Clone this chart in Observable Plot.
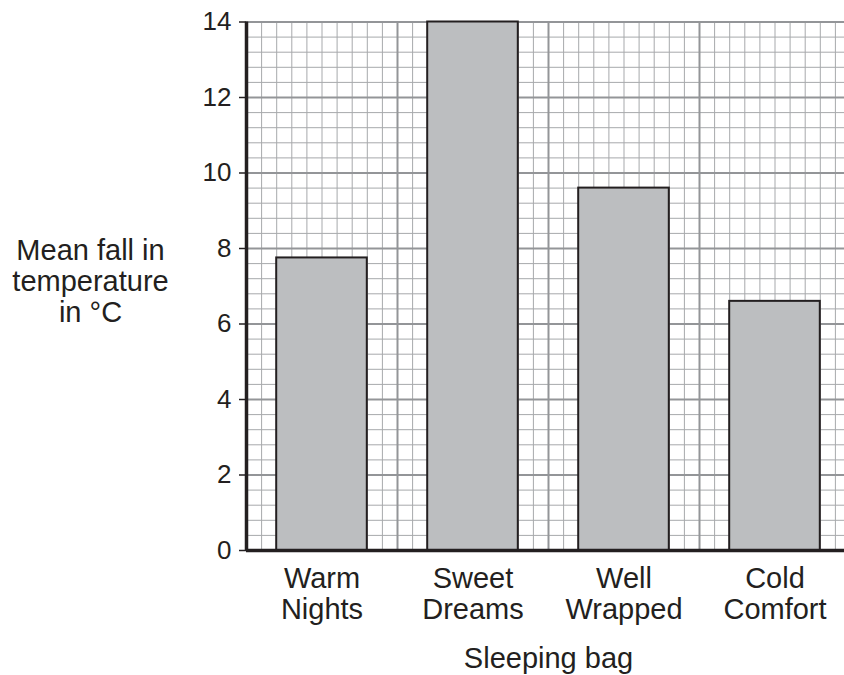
<!DOCTYPE html>
<html><head><meta charset="utf-8">
<script src="https://cdn.jsdelivr.net/npm/d3@7"></script>
<script src="https://cdn.jsdelivr.net/npm/@observablehq/plot@0.6"></script>
<style>html,body{margin:0;padding:0;overflow:hidden;background:#fff} svg{max-width:none!important;}</style>
</head><body><div id="chart"></div>
<script>
const categories = ["Warm\nNights", "Sweet\nDreams", "Well\nWrapped", "Cold\nComfort"];
const values = [7.75, 14, 9.6, 6.6];
const yTicks = [0, 2, 4, 6, 8, 10, 12, 14];
const yLabel = "Mean fall in\ntemperature\nin °C";
const xLabel = "Sleeping bag";

const data = categories.map((c, i) => ({category: c, index: i, value: values[i]}));
const n = categories.length;
const xMinor = d3.range(1, n * 10).map(i => i / 10);
const yMinor = d3.range(1, 35).map(i => i * 0.4);
const xMajor = d3.range(1, n + 1);
const yMajor = yTicks.slice(1);
const xTicks = categories.map((c, i) => i + 0.5);

const chart = Plot.plot({
  width: 850, height: 675,
  marginLeft: 246, marginRight: 0, marginTop: 21.5, marginBottom: 125,
  x: {domain: [0, n]},
  y: {domain: [0, 14]},
  style: {fontFamily: "'Liberation Sans', Arial, sans-serif", color: "#231f20", background: "#fff", maxWidth: "none"},
  marks: [
    Plot.ruleX(xMinor, {stroke: "#a7a9ac", strokeWidth: 1}),
    Plot.ruleY(yMinor, {stroke: "#a7a9ac", strokeWidth: 1}),
    Plot.ruleX(xMajor, {stroke: "#939598", strokeWidth: 2}),
    Plot.ruleY(yMajor, {stroke: "#939598", strokeWidth: 2}),
    Plot.rectY(data, {x1: d => d.index + 0.2, x2: d => d.index + 0.8, y: "value", fill: "#bcbec0", stroke: "#231f20", strokeWidth: 2}),
    Plot.axisY(yTicks, {tickSize: 7, tickPadding: 8, fontSize: 26, label: null, strokeWidth: 1.5, stroke: "#231f20"}),
    Plot.axisX(xTicks, {tickFormat: t => categories[Math.floor(t)], tickSize: 0, tickPadding: 15.5, fontSize: 29, lineHeight: 1.06, label: null}),
    Plot.ruleX([0], {stroke: "#231f20", strokeWidth: 3.5}),
    Plot.ruleY([0], {stroke: "#231f20", strokeWidth: 3.5}),
    Plot.text([yLabel], {text: d => d, frameAnchor: "left", dx: -156, dy: -5, fontSize: 29, lineHeight: 1.075, textAnchor: "middle", fill: "#231f20"}),
    Plot.text([xLabel], {text: d => d, frameAnchor: "bottom", dy: 117, fontSize: 29, fill: "#231f20"})
  ]
});
document.getElementById("chart").append(chart);
</script>
</body></html>
